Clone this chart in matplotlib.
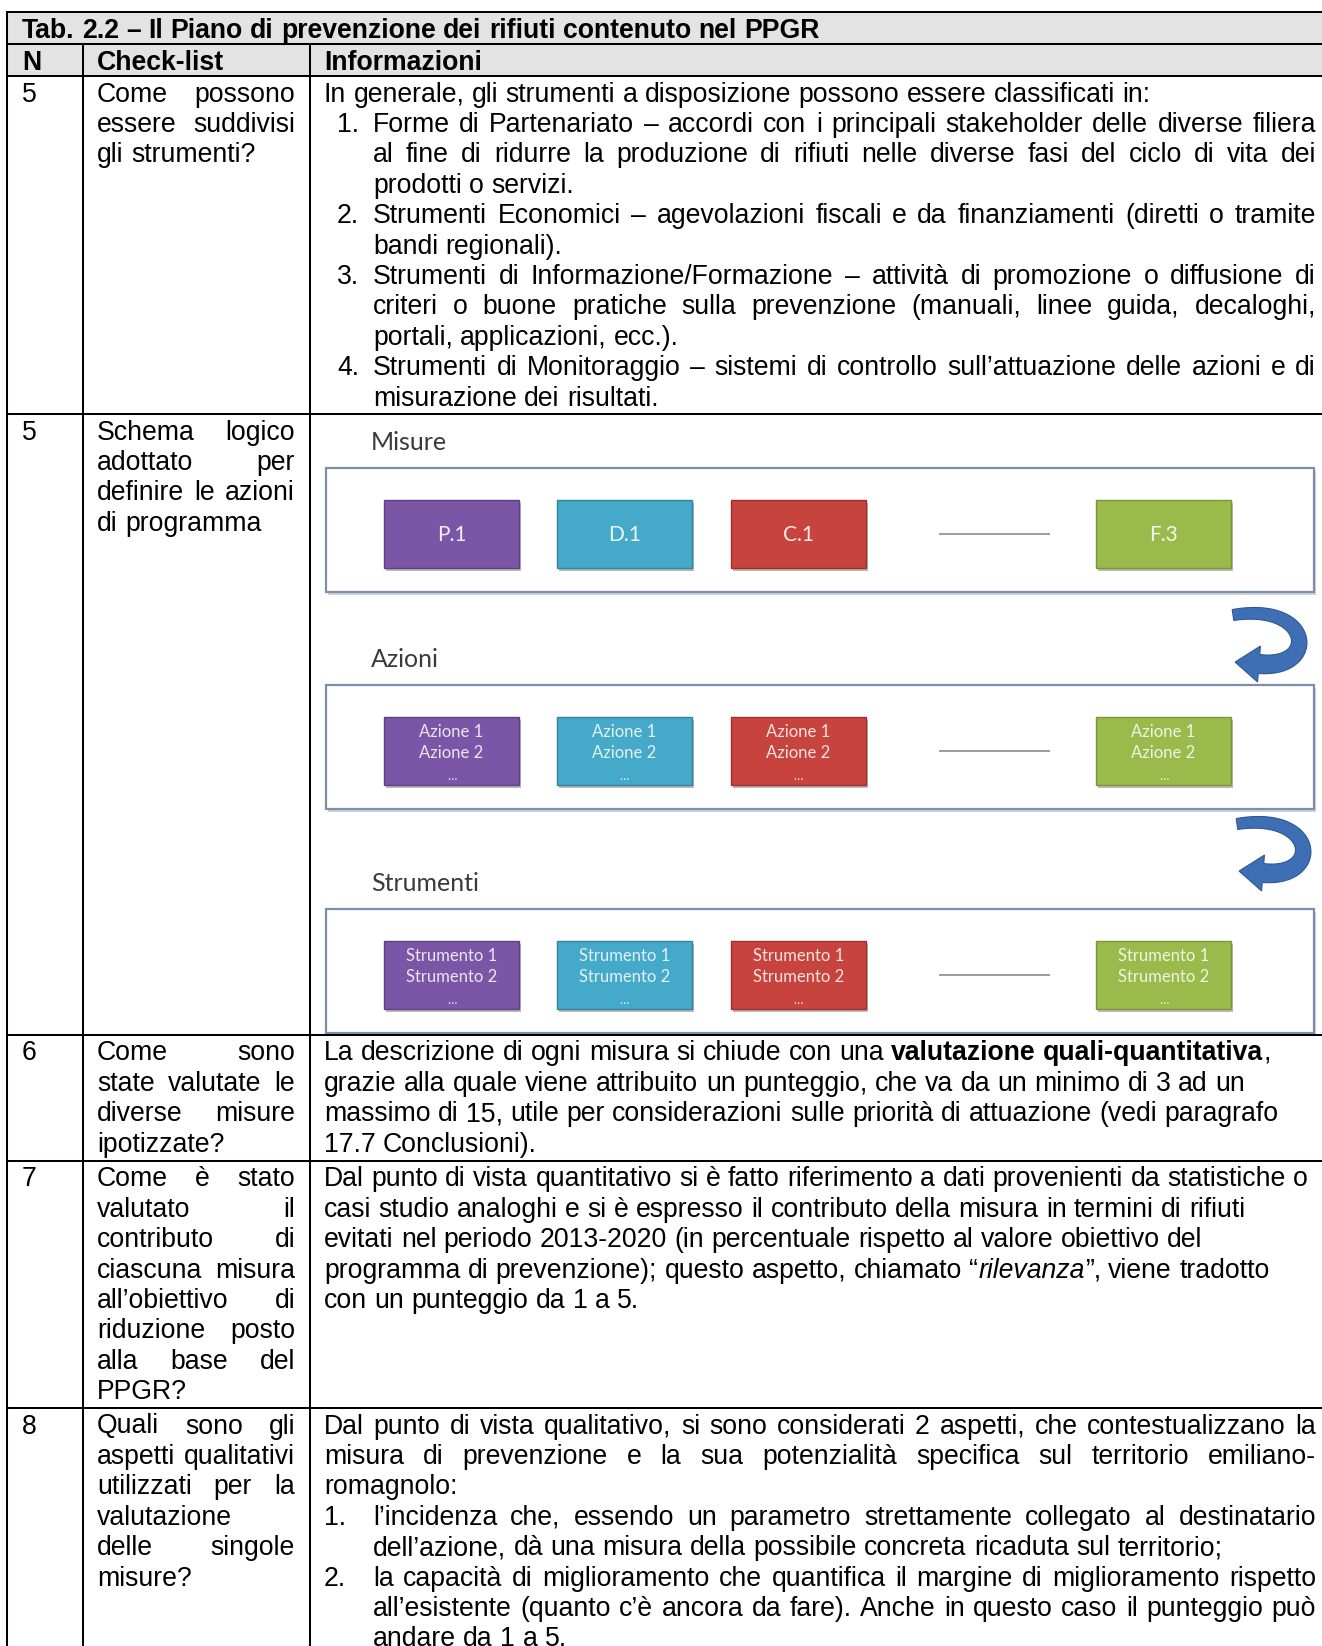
import re
import numpy as np
import matplotlib
matplotlib.use("Agg")
import matplotlib.pyplot as plt
from matplotlib.patches import Rectangle, Polygon
from matplotlib.font_manager import FontProperties

# ---------------- content ----------------
TITLE = "Tab. 2.2 – Il Piano di prevenzione dei rifiuti contenuto nel PPGR"
HEADERS = ["N", "Check-list", "Informazioni"]
ROW_NUMBERS = ["5", "5", "6", "7", "8"]

# (text, justified)
CHECKLIST = [
    [("Come possono", True), ("essere suddivisi", True), ("gli strumenti?", False)],
    [("Schema logico", True), ("adottato per", True), ("definire le azioni", True),
     ("di programma", False)],
    [("Come sono", True), ("state valutate le", True), ("diverse misure", True),
     ("ipotizzate?", False)],
    [("Come è stato", True), ("valutato il", True), ("contributo di", True),
     ("ciascuna misura", True), ("all’obiettivo di", True), ("riduzione posto", True),
     ("alla base del", True), ("PPGR?", False)],
    [("Quali sono gli", True), ("aspetti qualitativi", True), ("utilizzati per la", True),
     ("valutazione", False), ("delle singole", True), ("misure?", False)],
]

# (list label, hanging indent, text, justified);  **bold**  //italic//
INFO = [
    [("", False, "In generale, gli strumenti a disposizione possono essere classificati in:", False),
     ("1.", True, "Forme di Partenariato – accordi con i principali stakeholder delle diverse filiera", True),
     ("", True, "al fine di ridurre la produzione di rifiuti nelle diverse fasi del ciclo di vita dei", True),
     ("", True, "prodotti o servizi.", False),
     ("2.", True, "Strumenti Economici – agevolazioni fiscali e da finanziamenti (diretti o tramite", True),
     ("", True, "bandi regionali).", False),
     ("3.", True, "Strumenti di Informazione/Formazione – attività di promozione o diffusione di", True),
     ("", True, "criteri o buone pratiche sulla prevenzione (manuali, linee guida, decaloghi,", True),
     ("", True, "portali, applicazioni, ecc.).", False),
     ("4.", True, "Strumenti di Monitoraggio – sistemi di controllo sull’attuazione delle azioni e di", True),
     ("", True, "misurazione dei risultati.", False)],
    [],
    [("", False, "La descrizione di ogni misura si chiude con una **valutazione quali-quantitativa**,", False),
     ("", False, "grazie alla quale viene attribuito un punteggio, che va da un minimo di 3 ad un", False),
     ("", False, "massimo di 15, utile per considerazioni sulle priorità di attuazione (vedi paragrafo", False),
     ("", False, "17.7 Conclusioni).", False)],
    [("", False, "Dal punto di vista quantitativo si è fatto riferimento a dati provenienti da statistiche o", False),
     ("", False, "casi studio analoghi e si è espresso il contributo della misura in termini di rifiuti", False),
     ("", False, "evitati nel periodo 2013-2020 (in percentuale rispetto al valore obiettivo del", False),
     ("", False, "programma di prevenzione); questo aspetto, chiamato “//rilevanza//”, viene tradotto", False),
     ("", False, "con un punteggio da 1 a 5.", False)],
    [("", False, "Dal punto di vista qualitativo, si sono considerati 2 aspetti, che contestualizzano la", True),
     ("", False, "misura di prevenzione e la sua potenzialità specifica sul territorio emiliano-", True),
     ("", False, "romagnolo:", False),
     ("1.", True, "l’incidenza che, essendo un parametro strettamente collegato al destinatario", True),
     ("", True, "dell’azione, dà una misura della possibile concreta ricaduta sul territorio;", False),
     ("2.", True, "la capacità di miglioramento che quantifica il margine di miglioramento rispetto", True),
     ("", True, "all’esistente (quanto c’è ancora da fare). Anche in questo caso il punteggio può", True),
     ("", True, "andare da 1 a 5.", False)],
]

LEVELS = ["Misure", "Azioni", "Strumenti"]
MEASURES = ["P.1", "D.1", "C.1", "F.3"]
MEASURE_COLORS = ["#7b55a6", "#45a9c9", "#c7433e", "#9aba4c"]
MEASURE_EDGES = ["#5f3f86", "#2f86a3", "#a02f2b", "#7a9635"]
LEVEL_ITEMS = [None, ["Azione 1", "Azione 2", "…"], ["Strumento 1", "Strumento 2", "…"]]

# ---------------- layout ----------------
W, H = 1322, 1646
X_LEFT, X_C1, X_C2 = 6.7, 82.7, 310.0
Y_TOP, Y_HEAD, Y_BODY = 12.0, 44.0, 76.0
ROW_TOPS = [76.0, 414.0, 1035.0, 1161.0, 1408.0]
PITCH, BASE_OFF = 30.4, 25.5
TX1 = 22.0
TX2 = (97.0, 295.0)
TX3 = (324.0, 1316.0)
HANG = 373.0
LABEL_X_BY_ROW = [337.0, 324.0, 324.0, 324.0, 324.0]
FS = 19.2
FAM = ["Liberation Sans", "DejaVu Sans"]
DFAM = ["Lato", "DejaVu Sans"]

fig = plt.figure(figsize=(W / 100, H / 100), dpi=100, facecolor="white")
ax = fig.add_axes([0, 0, 1, 1])
ax.set_xlim(0, W)
ax.set_ylim(H, 0)
ax.axis("off")
renderer = fig.canvas.get_renderer()

PROPS = {
    "n": FontProperties(family=FAM, size=FS),
    "b": FontProperties(family=FAM, size=FS, weight="bold"),
    "i": FontProperties(family=FAM, size=FS, style="italic"),
}
_wcache = {}


def tw(s, st):
    key = (s, st)
    if key not in _wcache:
        _wcache[key] = renderer.get_text_width_height_descent(s, PROPS[st], ismath=False)[0]
    return _wcache[key]


SPACE = tw("a a", "n") - tw("aa", "n")


def parse(text):
    segs = []
    for part in re.split(r"(\*\*.*?\*\*|//.*?//)", text):
        if not part:
            continue
        if part.startswith("**"):
            segs.append((part[2:-2], "b"))
        elif part.startswith("//"):
            segs.append((part[2:-2], "i"))
        else:
            segs.append((part, "n"))
    words = [[]]
    for s, st in segs:
        for k, c in enumerate(s.split(" ")):
            if k > 0:
                words.append([])
            if c:
                words[-1].append((c, st))
    return [w for w in words if w]


def draw_line(x0, x1, y, text, justify):
    words = parse(text)
    widths = [sum(tw(c, st) for c, st in w) for w in words]
    if justify and len(words) > 1:
        gap = (x1 - x0 - sum(widths)) / (len(words) - 1)
    else:
        gap = SPACE
    x = x0
    for w, wd in zip(words, widths):
        xx = x
        for c, st in w:
            ax.text(xx, y, c, fontproperties=PROPS[st], ha="left", va="baseline", color="black")
            xx += tw(c, st)
        x += wd + gap


# ---------------- table background & grid ----------------
ax.add_patch(Rectangle((X_LEFT, Y_TOP), W - X_LEFT, Y_BODY - Y_TOP, fc="#e3e3e3", ec="none", zorder=0))
LW = 1.45
for y in [Y_TOP, Y_HEAD, Y_BODY] + ROW_TOPS[1:]:
    ax.plot([X_LEFT - 0.7, W], [y, y], color="black", lw=LW, solid_capstyle="butt", zorder=3)
ax.plot([X_LEFT, X_LEFT], [Y_TOP, H], color="black", lw=LW, zorder=3)
for xc in (X_C1, X_C2):
    ax.plot([xc, xc], [Y_HEAD, H], color="black", lw=LW, zorder=3)

# title and header
draw_line(TX1, W, Y_TOP + BASE_OFF, "**" + TITLE + "**", False)
for hx, htxt in zip((TX1, TX2[0], TX3[0]), HEADERS):
    draw_line(hx, W, Y_HEAD + BASE_OFF, "**" + htxt + "**", False)

# body rows
for r, top in enumerate(ROW_TOPS):
    base = top + BASE_OFF
    draw_line(TX1, X_C1, base, ROW_NUMBERS[r], False)
    for k, (txt, just) in enumerate(CHECKLIST[r]):
        draw_line(TX2[0], TX2[1], base + k * PITCH, txt, just)
    for k, (lab, hang, txt, just) in enumerate(INFO[r]):
        y = base + k * PITCH
        if lab:
            draw_line(LABEL_X_BY_ROW[r], HANG, y, lab, False)
        draw_line(HANG if hang else TX3[0], TX3[1], y, txt, just)

# ---------------- embedded scheme (row 5b) ----------------
FRAME_X = (326.0, 1314.0)
FRAME_TOPS = [468.0, 685.0, 909.0]
FRAME_H = 124.0
BOX_LEFTS = [384.0, 557.0, 731.0, 1096.0]
BOX_W, BOX_H, BOX_OFF = 135.0, 68.0, 32.0
DASH_X = (940.0, 1049.0)
LABEL_X, LABEL_DY = 371.0, -26.0
ARROW_ORIGINS = [(1229.0, 606.0), (1233.0, 815.0)]


def curved_arrow(x0, y0):
    # centre line: cubic bezier in a 75 x 72 box, tapered band + head pointing left
    P = np.array([[4, 9], [84, -4], [90, 64], [30, 58]], dtype=float)
    t = np.linspace(0, 1, 60)[:, None]
    pts = ((1 - t) ** 3) * P[0] + 3 * ((1 - t) ** 2) * t * P[1] + 3 * (1 - t) * t ** 2 * P[2] + t ** 3 * P[3]
    d = np.gradient(pts, axis=0)
    d /= np.linalg.norm(d, axis=1)[:, None]
    n = np.column_stack([-d[:, 1], d[:, 0]])
    half = (np.linspace(5.5, 9.5, len(pts)))[:, None]
    side_a = pts + n * half
    side_b = pts - n * half
    end, dirv, nv = pts[-1], d[-1], n[-1]
    tip = end + dirv * 24
    head = [end + nv * 18, tip, end - nv * 18]
    poly = np.vstack([side_a, head, side_b[::-1]])
    poly += np.array([x0, y0])
    ax.add_patch(Polygon(poly, closed=True, fc="#3e6fb4", ec="#2d5896", lw=0.8, zorder=2))


for li, (lvl, ftop) in enumerate(zip(LEVELS, FRAME_TOPS)):
    ax.text(LABEL_X, ftop + LABEL_DY, lvl, family=DFAM, fontsize=18, color="#3a3a3a",
            ha="left", va="center", zorder=2)
    fw = FRAME_X[1] - FRAME_X[0]
    ax.add_patch(Rectangle((FRAME_X[0] + 2, ftop + 3), fw, FRAME_H, fc="#cdd2d9", ec="none", zorder=1))
    ax.add_patch(Rectangle((FRAME_X[0], ftop), fw, FRAME_H, fc="white", ec="#7d8fa8", lw=1.6, zorder=1.5))
    btop = ftop + BOX_OFF
    for bi, (bx, code, col, ecol) in enumerate(zip(BOX_LEFTS, MEASURES, MEASURE_COLORS, MEASURE_EDGES)):
        ax.add_patch(Rectangle((bx + 1.5, btop + 2.5), BOX_W, BOX_H, fc="#b9b9b9", ec="none", zorder=1.8))
        ax.add_patch(Rectangle((bx, btop), BOX_W, BOX_H, fc=col, ec=ecol, lw=1.0, zorder=2))
        cx = bx + BOX_W / 2
        if LEVEL_ITEMS[li] is None:
            ax.text(cx, btop + BOX_H / 2 + 1, code, family=DFAM, fontsize=15, color="white",
                    alpha=0.9, ha="center", va="center", zorder=3)
        else:
            for ti, (item, dy) in enumerate(zip(LEVEL_ITEMS[li], (15, 36, 59))):
                ax.text(cx, btop + dy, item, family=DFAM, fontsize=12 if ti < 2 else 9,
                        color="white", alpha=0.85, ha="center", va="center", zorder=3)
    ax.plot(DASH_X, [btop + BOX_H / 2] * 2, color="#9c9c9c", lw=1.4, zorder=2)

for ox, oy in ARROW_ORIGINS:
    curved_arrow(ox, oy)

fig.savefig("out.png", dpi=100, facecolor="white")
